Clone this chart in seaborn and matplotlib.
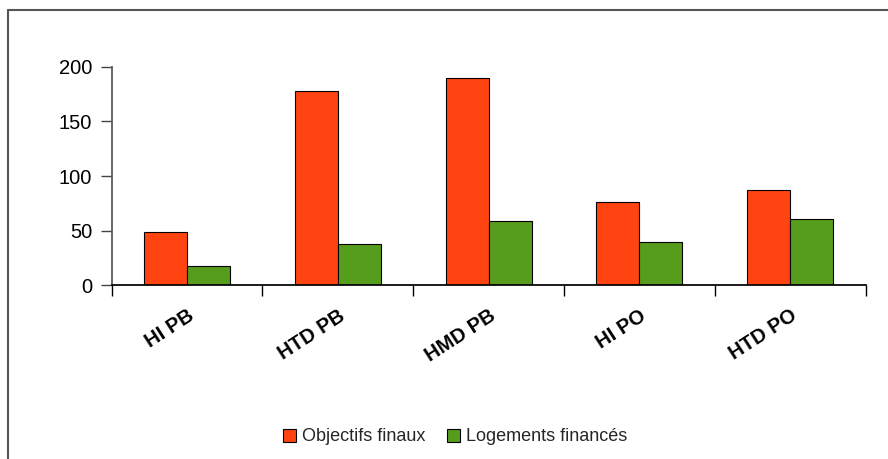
import matplotlib
matplotlib.use("Agg")
import numpy as np
import pandas as pd
import matplotlib.pyplot as plt
import seaborn as sns
from matplotlib.lines import Line2D

categories = ["HI PB", "HTD PB", "HMD PB", "HI PO", "HTD PO"]
objectifs = [49, 178, 190, 76, 87]
logements = [18, 38, 59, 40, 61]
series = ["Objectifs finaux", "Logements financés"]
couleurs = ["#FF4411", "#569D1D"]

df = pd.DataFrame({
    "type": categories * 2,
    "valeur": objectifs + logements,
    "serie": [series[0]] * len(categories) + [series[1]] * len(categories),
})

sns.set_theme(style="white")
plt.rcParams["font.family"] = ["Liberation Sans", "DejaVu Sans"]

fig = plt.figure(figsize=(8.88, 4.59), dpi=100)
ax = fig.add_axes([0.1258, 0.3784, 0.849, 0.4763])

sns.barplot(
    data=df, x="type", y="valeur", hue="serie", palette=couleurs,
    width=0.57, edgecolor="black", linewidth=0.8, saturation=1, ax=ax,
)

ax.set_xlim(-0.5, 4.5)
ax.set_ylim(0, 200)
ax.set_yticks(np.arange(0, 201, 50))
ax.set_xlabel("")
ax.set_ylabel("")

ax.set_xticks(range(len(categories)))
ax.set_xticklabels(categories, rotation=33, ha="right", va="top",
                   rotation_mode="anchor", fontweight="bold", fontsize=14.5)
ax.set_xticks(np.arange(-0.5, len(categories), 1), minor=True)
ax.tick_params(axis="x", which="major", bottom=False, length=0, pad=15,
               labelcolor="black")
ax.tick_params(axis="x", which="minor", bottom=True, length=8, width=1,
               color="black", direction="out")
ax.tick_params(axis="y", left=True, length=8, width=1, color="#444444",
               labelsize=14.5, pad=6, labelcolor="black")

sns.despine(ax=ax)
ax.spines["left"].set_color("#555555")
ax.spines["bottom"].set_color("black")

ax.legend(loc="center", bbox_to_anchor=(0.512, 0.048),
          bbox_transform=fig.transFigure, ncol=2, frameon=False,
          fontsize=13, handlelength=0.75, handleheight=0.75,
          handletextpad=0.3, columnspacing=1.2)

# cadre du graphique (haut et gauche)
fig.add_artist(Line2D([8 / 888, 8 / 888], [0, 1 - 10 / 459],
                      transform=fig.transFigure, color="#555555", lw=1.5))
fig.add_artist(Line2D([8 / 888, 1], [1 - 10 / 459, 1 - 10 / 459],
                      transform=fig.transFigure, color="#555555", lw=1.5))

fig.savefig("out.png", dpi=100)
